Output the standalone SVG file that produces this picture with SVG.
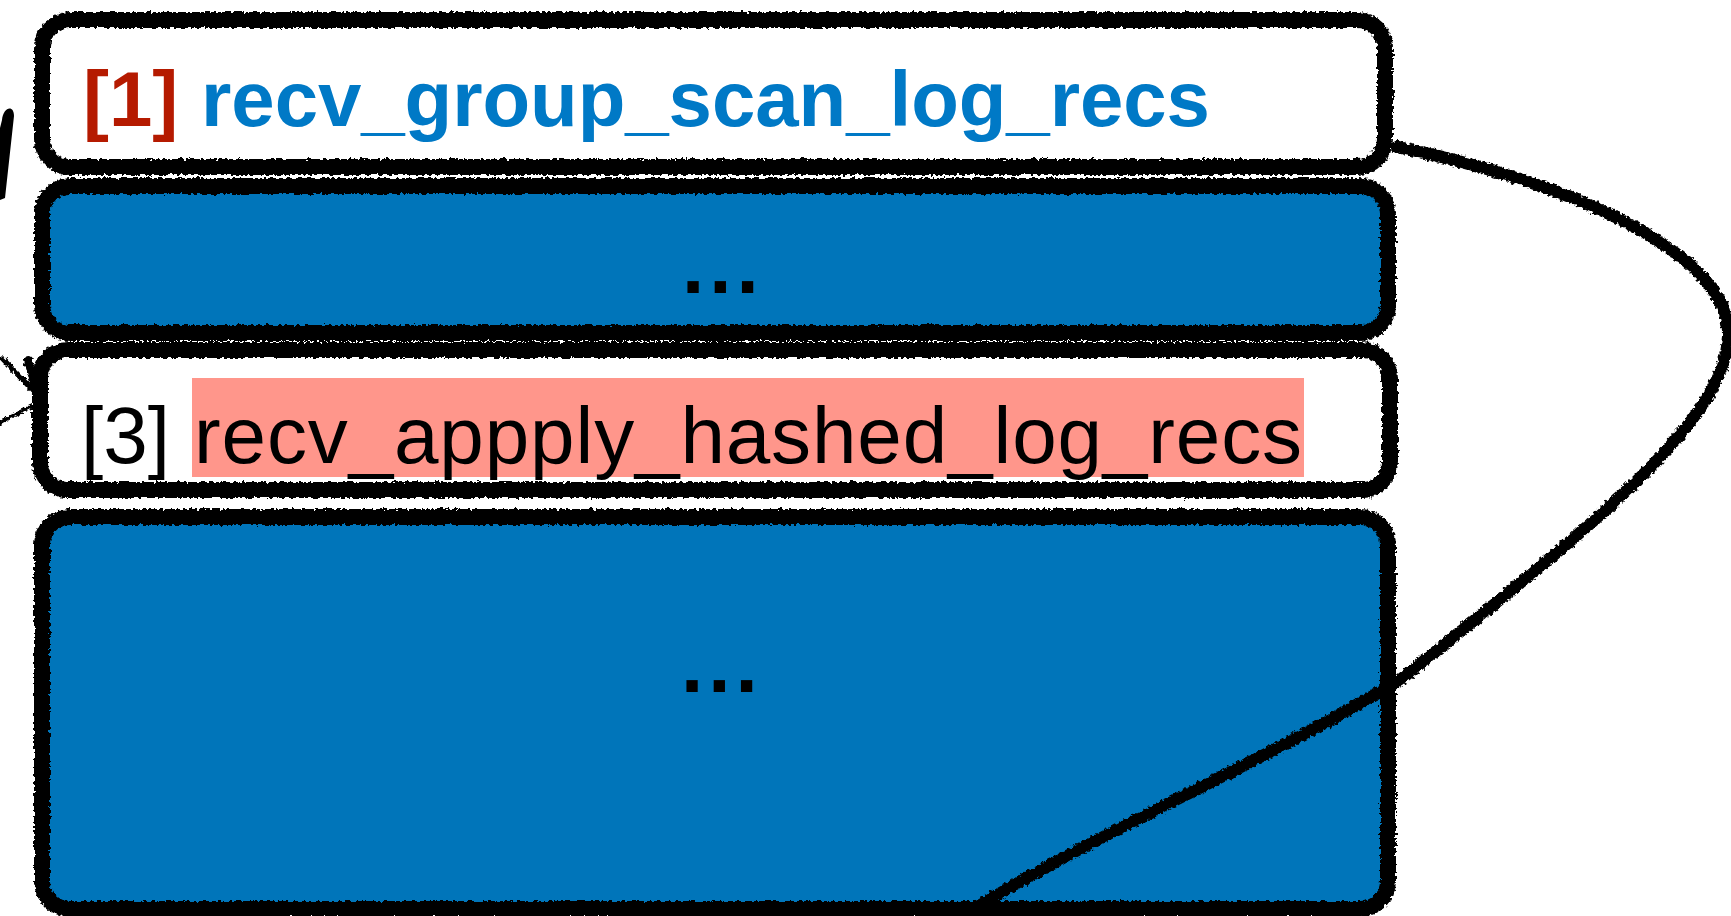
<svg xmlns="http://www.w3.org/2000/svg" width="1731" height="916" viewBox="0 0 1731 916">
  <style>
    .fill-white { fill: #ffffff; }
    .fill-blue { fill: #0075BA; }
    .outline { fill: none; stroke: #000; stroke-width: 16; filter: url(#rough); }
    .wire { fill: none; stroke: #000; stroke-width: 12; stroke-linecap: round; filter: url(#rough); }
    .thin { fill: none; stroke: #000; stroke-width: 3.5; stroke-linecap: round; filter: url(#rough); }
    .bold { font-family: "Liberation Sans", Arial, sans-serif; font-weight: bold; font-size: 78px; }
    .reg { font-family: "Liberation Sans", Arial, sans-serif; font-size: 80px; fill: #000; }
    .dots { font-family: "Liberation Sans", Arial, sans-serif; font-weight: bold; font-size: 80px; fill: #000; letter-spacing: 5px; }
  </style>
  <defs>
    <!-- chalky hand-drawn edge -->
    <filter id="rough" filterUnits="userSpaceOnUse" x="-20" y="-20" width="1771" height="956">
      <feTurbulence type="fractalNoise" baseFrequency="0.3" numOctaves="2" seed="4" result="n"/>
      <feDisplacementMap in="SourceGraphic" in2="n" scale="6" xChannelSelector="R" yChannelSelector="G"/>
    </filter>
  </defs>

  <rect width="1731" height="916" fill="#ffffff"/>

  <!-- frame [1] -->
  <g id="frame-1">
    <rect class="fill-white" x="42" y="20" width="1343" height="147" rx="28"/>
    <rect class="outline" x="42" y="20" width="1343" height="147" rx="28"/>
    <text class="bold" x="83" y="126"><tspan fill="#B51A00">[1]</tspan></text>
    <text class="bold" x="201" y="126" fill="#0079C6" textLength="1009" lengthAdjust="spacing">recv_group_scan_log_recs</text>
  </g>

  <!-- frame between [1] and [3] -->
  <g id="frame-2">
    <rect class="fill-blue" x="42" y="186" width="1346" height="147" rx="28"/>
    <rect class="outline" x="42" y="186" width="1346" height="147" rx="28"/>
    <text class="dots" x="682" y="293">...</text>
  </g>

  <!-- frame [3] -->
  <g id="frame-3">
    <rect class="fill-white" x="40" y="350" width="1350" height="140" rx="28"/>
    <rect class="outline" x="40" y="350" width="1350" height="140" rx="28"/>
    <rect x="192" y="378" width="1112" height="99" fill="#FF968B"/>
    <text class="reg" x="81" y="463">[3]</text>
    <text class="reg" x="194" y="463" textLength="1108" lengthAdjust="spacing">recv_appply_hashed_log_recs</text>
  </g>

  <!-- lower frame -->
  <g id="frame-4">
    <rect class="fill-blue" x="42" y="517" width="1346" height="392" rx="28"/>
    <rect class="outline" x="42" y="517" width="1346" height="392" rx="28"/>
    <text class="dots" x="681" y="692">...</text>
  </g>

  <!-- connectors -->
  <g id="connectors">
    <!-- return loop from [1] around the right side -->
    <path class="wire" d="M1397,147 C1560,180 1730,250 1728,335 C1726,420 1600,520 1400,680 C1250,770 1080,840 960,918"/>
    <!-- incoming stroke at the upper left, leaving the canvas -->
    <path d="M2,120 C3,107 14,104 14,116 L5,198 L0,200 L0,128 Z" fill="#000"/>
    <!-- arrowhead pointing into [3] -->
    <path class="thin" d="M-2,355 L36,395"/>
    <path class="thin" d="M3,358 L34,390"/>
    <path class="thin" d="M-2,424 L38,403"/>
    <path class="thin" d="M3,420 L34,405"/>
    <path d="M28,360 L40,405" fill="none" stroke="#000" stroke-width="8" stroke-linecap="round" filter="url(#rough)"/>
  </g>
</svg>
